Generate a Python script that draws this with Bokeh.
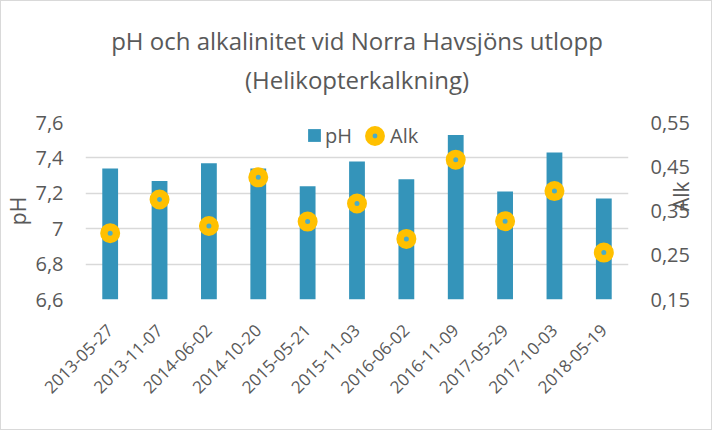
import math
from bokeh.plotting import figure
from bokeh.models import (ColumnDataSource, Range1d, LinearAxis, FixedTicker,
                          CustomJSTickFormatter, Legend, LegendItem, Title)
from bokeh.embed import file_html
from bokeh.resources import INLINE

dates = ["2013-05-27", "2013-11-07", "2014-06-02", "2014-10-20", "2015-05-21",
         "2015-11-03", "2016-06-02", "2016-11-09", "2017-05-29", "2017-10-03",
         "2018-05-19"]
ph = [7.34, 7.27, 7.37, 7.34, 7.24, 7.38, 7.28, 7.53, 7.21, 7.43, 7.17]
alk = [0.300, 0.376, 0.316, 0.426, 0.326, 0.367, 0.287, 0.466, 0.327, 0.395, 0.256]
ph_ticks = [6.6, 6.8, 7.0, 7.2, 7.4, 7.6]
alk_ticks = [0.15, 0.25, 0.35, 0.45, 0.55]
title1 = "pH och alkalinitet vid Norra Havsjöns utlopp"
title2 = "(Helikopterkalkning)"

FONT = "Open Sans"
TXT = "#595959"
GRID = "#D9D9D9"
BAR = "#3494BA"
YEL = "#FFC000"
DOT = "#4BACC6"

src = ColumnDataSource(dict(d=dates, ph=ph, alk=alk))

W, H = 712, 430
p = figure(width=W, height=H, x_range=dates, y_range=Range1d(6.6, 7.6),
           output_backend="svg", toolbar_location=None,
           min_border_left=83, min_border_right=W - 627,
           min_border_top=121, min_border_bottom=H - 298)
p.extra_y_ranges = {"alk": Range1d(0.15, 0.55)}
p.outline_line_color = None
p.background_fill_color = "white"
p.border_fill_color = "white"
p.styles = {"border": "1px solid #D9D9D9"}

bars = p.vbar(x="d", top="ph", bottom=6.6, width=0.32, source=src,
              fill_color=BAR, line_color=None)
mk = p.scatter(x="d", y="alk", y_range_name="alk", source=src, marker="circle",
               size=12.5, fill_color=DOT, line_color=YEL, line_width=7.5)

# axes
la = p.yaxis[0]
la.ticker = FixedTicker(ticks=ph_ticks)
la.formatter = CustomJSTickFormatter(
    code="return (Math.round(tick*10)/10).toString().replace('.', ',');")
la.axis_label = "pH"
la.axis_label_standoff = 0
ra = LinearAxis(y_range_name="alk", ticker=FixedTicker(ticks=alk_ticks),
                formatter=CustomJSTickFormatter(
                    code="return tick.toFixed(2).replace('.', ',');"))
ra.axis_label = "Alk"
ra.axis_label_standoff = -12
try:
    ra.axis_label_orientation = math.pi / 2
except Exception:
    pass
p.add_layout(ra, "right")

for ax in [la, ra]:
    ax.axis_line_color = None
    ax.major_tick_line_color = None
    ax.minor_tick_line_color = None
    ax.major_tick_out = 0
    ax.major_tick_in = 0
    ax.major_label_standoff = 22
    ax.major_label_text_font = FONT
    ax.major_label_text_font_size = "20px"
    ax.major_label_text_color = TXT
    ax.axis_label_text_font = FONT
    ax.axis_label_text_font_size = "21px"
    ax.axis_label_text_font_style = "normal"
    ax.axis_label_text_color = TXT

xa = p.xaxis[0]
xa.axis_line_color = None
xa.major_tick_line_color = None
xa.major_tick_out = 0
xa.major_tick_in = 0
xa.major_label_orientation = math.pi / 4
xa.major_label_standoff = 28
xa.major_label_text_font = FONT
xa.major_label_text_font_size = "17px"
xa.major_label_text_color = TXT

p.xgrid.grid_line_color = None
p.ygrid.grid_line_color = GRID
p.ygrid.grid_line_width = 1.3

# legends
leg1 = Legend(items=[LegendItem(label="pH", renderers=[bars])],
              location=(221, 150), orientation="horizontal",
              glyph_width=16, glyph_height=16, label_standoff=3,
              label_height=28, padding=0, margin=0, spacing=0,
              border_line_color=None, background_fill_alpha=0,
              label_text_font=FONT, label_text_font_size="20px",
              label_text_color=TXT)
leg2 = Legend(items=[LegendItem(label="Alk", renderers=[mk])],
              location=(274, 148), orientation="horizontal",
              glyph_width=31, glyph_height=31, label_standoff=-3,
              label_height=28, padding=0, margin=0, spacing=0,
              border_line_color=None, background_fill_alpha=0,
              label_text_font=FONT, label_text_font_size="20px",
              label_text_color=TXT)
p.add_layout(leg1)
p.add_layout(leg2)

# titles: spacer next to the frame, then line 2, then line 1
p.add_layout(Title(text=" ", standoff=8, text_font=FONT,
                   text_font_size="12px"), "above")
for txt, so in [(title2, 0), (title1, 8)]:
    p.add_layout(Title(text=txt, align="center", standoff=so,
                       text_font=FONT, text_font_size="24px",
                       text_font_style="normal", text_color=TXT), "above")

open("out.html", "w").write(file_html(p, INLINE))
